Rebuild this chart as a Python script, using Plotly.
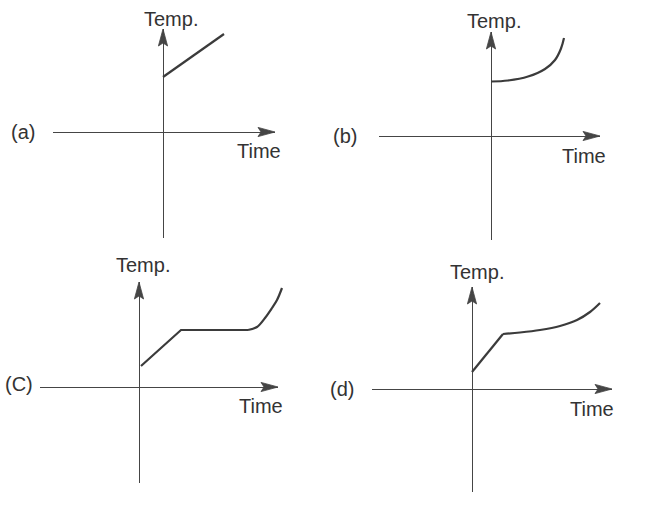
import plotly.graph_objects as go

W, H = 647, 508

# ---- data (time, temperature) in arbitrary units ----
a_time = [0.0, 6.1]
a_temp = [5.5, 9.8]

b_time = [0.0, 1.7, 3.7, 5.4, 6.4, 7.0, 7.3]
b_temp = [5.45, 5.55, 5.95, 6.7, 7.6, 8.75, 9.8]

c_time_linear = [0.2, 4.2, 10.9]
c_temp_linear = [2.1, 5.7, 5.7]
c_time_curve = [10.9, 11.8, 12.6, 13.3, 13.8, 14.3]
c_temp_curve = [5.7, 6.0, 6.9, 7.9, 8.7, 9.9]

d_time_linear = [0.0, 3.1]
d_temp_linear = [1.7, 5.5]
d_time_curve = [3.1, 4.8, 6.8, 8.8, 10.5, 11.8, 12.8]
d_temp_curve = [5.5, 5.65, 5.9, 6.3, 6.9, 7.7, 8.6]

panel_labels = ["(a)", "(b)", "(C)", "(d)"]
x_title = "Time"
y_title = "Temp."

# ---- layout of each panel (pixels): origin, axis extents, text centres ----
SCALE = 10.0   # px per data unit
PAD = 14       # extra px around the curve layer so curves are not clipped
panels = [
    dict(ox=163, oy=132, left=53, right=275, top=29, bottom=238,
         temp=(171, 19), time=(259, 151), lab=(23, 132)),
    dict(ox=491, oy=136, left=379, right=600, top=32, bottom=240,
         temp=(494, 21), time=(584, 156), lab=(345, 136)),
    dict(ox=139, oy=387, left=40, right=278, top=282, bottom=483,
         temp=(143, 265), time=(261, 406), lab=(19, 384)),
    dict(ox=472, oy=389, left=372, right=612, top=287, bottom=492,
         temp=(477, 272), time=(592, 409), lab=(342, 389)),
]

series = [
    [(a_time, a_temp, "linear")],
    [(b_time, b_temp, "spline")],
    [(c_time_linear, c_temp_linear, "linear"), (c_time_curve, c_temp_curve, "spline")],
    [(d_time_linear, d_temp_linear, "linear"), (d_time_curve, d_temp_curve, "spline")],
]

LINE_COL = "#3b3b3b"
AXIS_COL = "#454545"
TEXT_COL = "#333333"
FONT = "Liberation Sans, Arial, sans-serif"

fig = go.Figure()
shapes = []
annotations = []
layout_axes = {}


def axis_names(n):
    return ("x" if n == 1 else f"x{n}", "y" if n == 1 else f"y{n}",
            "xaxis" if n == 1 else f"xaxis{n}", "yaxis" if n == 1 else f"yaxis{n}")


for i, (p, ser) in enumerate(zip(panels, series)):
    # axes that carry the arrows (zero lines)
    xa, ya, xkey, ykey = axis_names(i + 1)
    xr = [(p["left"] - p["ox"]) / SCALE, (p["right"] - p["ox"]) / SCALE]
    yr = [(p["oy"] - p["bottom"]) / SCALE, (p["oy"] - p["top"]) / SCALE]
    common = dict(showgrid=False, showticklabels=False, ticks="", showline=False,
                  zeroline=True, zerolinecolor=AXIS_COL, zerolinewidth=1.4,
                  fixedrange=True)
    layout_axes[xkey] = dict(domain=[p["left"] / W, p["right"] / W], range=xr,
                             anchor=ya, **common)
    layout_axes[ykey] = dict(domain=[1 - p["bottom"] / H, 1 - p["top"] / H], range=yr,
                             anchor=xa, **common)

    # same scale, slightly larger area for the curves (no zero lines)
    cxa, cya, cxkey, cykey = axis_names(i + 5)
    cl, cr, ct, cb = p["left"] - PAD, p["right"] + PAD, p["top"] - PAD, p["bottom"] + PAD
    hidden = dict(visible=False, showgrid=False, zeroline=False, fixedrange=True)
    layout_axes[cxkey] = dict(domain=[cl / W, cr / W],
                              range=[(cl - p["ox"]) / SCALE, (cr - p["ox"]) / SCALE],
                              anchor=cya, **hidden)
    layout_axes[cykey] = dict(domain=[1 - cb / H, 1 - ct / H],
                              range=[(p["oy"] - cb) / SCALE, (p["oy"] - ct) / SCALE],
                              anchor=cxa, **hidden)

    for xs, ys, shape in ser:
        fig.add_trace(go.Scatter(x=xs, y=ys, mode="lines", xaxis=cxa, yaxis=cya,
                                 line=dict(color=LINE_COL, width=2.2, shape=shape,
                                           smoothing=1.0),
                                 showlegend=False, hoverinfo="skip"))

    # arrow heads at the axis ends
    shapes.append(dict(type="path", xref=xa, yref=ya, xsizemode="pixel", ysizemode="pixel",
                       xanchor=xr[1], yanchor=0,
                       path="M0,0 L-17,4.6 L-14,0 L-17,-4.6 Z",
                       fillcolor=AXIS_COL, line=dict(color=AXIS_COL, width=0.8)))
    shapes.append(dict(type="path", xref=xa, yref=ya, xsizemode="pixel", ysizemode="pixel",
                       xanchor=0, yanchor=yr[1],
                       path="M0,0 L4.6,-17 L0,-14 L-4.6,-17 Z",
                       fillcolor=AXIS_COL, line=dict(color=AXIS_COL, width=0.8)))

    for txt, (px, py) in ((y_title, p["temp"]), (x_title, p["time"]), (panel_labels[i], p["lab"])):
        annotations.append(dict(text=txt, x=px / W, y=1 - py / H, xref="paper", yref="paper",
                                xanchor="center", yanchor="middle", showarrow=False,
                                font=dict(family=FONT, size=20, color=TEXT_COL)))

fig.update_layout(width=W, height=H, margin=dict(l=0, r=0, t=0, b=0),
                  paper_bgcolor="white", plot_bgcolor="rgba(0,0,0,0)",
                  showlegend=False, shapes=shapes, annotations=annotations,
                  **layout_axes)

fig.write_html("out.html", config={"displayModeBar": False},
               post_script="document.body.style.margin='0';document.body.style.overflow='hidden';")
